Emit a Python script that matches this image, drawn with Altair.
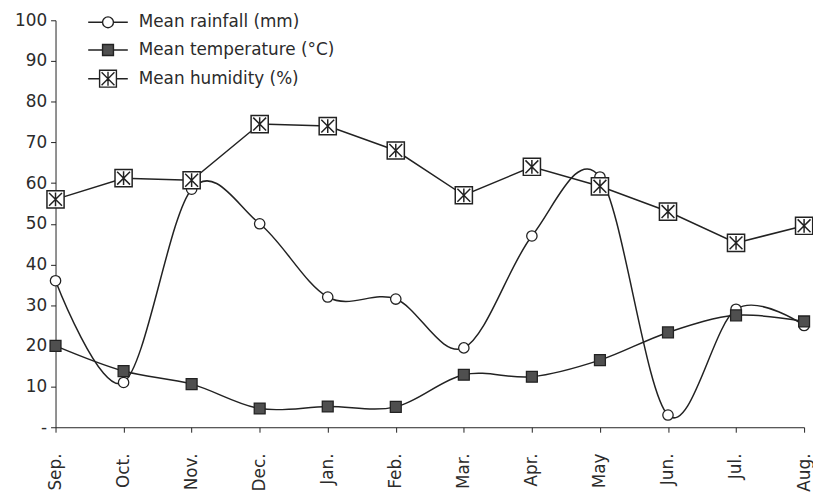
import altair as alt
import pandas as pd

months = ["Sep.", "Oct.", "Nov.", "Dec.", "Jan.", "Feb.", "Mar.", "Apr.", "May", "Jun.", "Jul.", "Aug."]
rainfall = [36, 11, 58.5, 50, 32, 31.5, 19.5, 47, 61.5, 3, 29, 25]
temperature = [20, 13.8, 10.6, 4.6, 5.1, 5.0, 12.9, 12.4, 16.5, 23.3, 27.5, 26]
humidity = [56, 61.2, 60.7, 74.5, 74, 68, 57, 64, 59.2, 53, 45.3, 49.5]
series_names = ["Mean rainfall (mm)", "Mean temperature (°C)", "Mean humidity (%)"]
y_ticks = [0, 10, 20, 30, 40, 50, 60, 70, 80, 90, 100]

rows = []
for name, vals in zip(series_names, [rainfall, temperature, humidity]):
    for m, v in zip(months, vals):
        rows.append({"month": m, "series": name, "value": v})
df = pd.DataFrame(rows)

FONT = "DejaVu Sans"
TXT = "#2b2b2b"
INK = "#222222"
FS = 17

x = alt.X(
    "month:N", sort=months,
    scale=alt.Scale(type="point", padding=0),
    axis=alt.Axis(title=None, labelAngle=-90, labelFontSize=FS, labelFont=FONT,
                  labelColor=TXT, tickSize=5, labelPadding=21, domainColor=INK,
                  tickColor=INK, grid=False, labelOverlap=False),
)
y = alt.Y(
    "value:Q",
    scale=alt.Scale(domain=[0, 100], nice=False),
    axis=alt.Axis(title=None, values=y_ticks,
                  labelExpr="datum.value == 0 ? '-' : datum.label",
                  labelFontSize=FS, labelFont=FONT, labelColor=TXT, tickSize=5,
                  labelPadding=4, domainColor=INK, tickColor=INK, grid=False),
)

base = alt.Chart(df)

def sel(name):
    return base.transform_filter(alt.datum.series == name)

rain_line = sel(series_names[0]).mark_line(interpolate="cardinal", tension=0, color=INK, strokeWidth=1.5).encode(x=x, y=y)
temp_line = sel(series_names[1]).mark_line(interpolate="cardinal", tension=0, color=INK, strokeWidth=1.5).encode(x=x, y=y)
hum_line = sel(series_names[2]).mark_line(interpolate="linear", color=INK, strokeWidth=1.5).encode(x=x, y=y)

rain_pts = sel(series_names[0]).mark_point(shape="circle", filled=True, fill="white", stroke=INK,
                                           strokeWidth=1.3, size=110, opacity=1).encode(x=x, y=y)
temp_pts = sel(series_names[1]).mark_point(shape="square", filled=True, fill="#4f4f4f", stroke=INK,
                                           strokeWidth=1.3, size=121, opacity=1).encode(x=x, y=y)
hum_sq = sel(series_names[2]).mark_point(shape="square", filled=True, fill="white", stroke=INK,
                                         strokeWidth=1.5, size=300, opacity=1).encode(x=x, y=y)
hum_star = sel(series_names[2]).mark_point(shape="M-0.75,-0.75L0.75,0.75M0.75,-0.75L-0.75,0.75M0,-0.8V0.8",
                                           filled=False, stroke=INK, strokeWidth=1.5, size=300,
                                           opacity=1).encode(x=x, y=y)

legend_paths = [
    "M-2,0H-0.55M0.55,0H2M-0.55,0A0.55,0.55 0 1,1 0.55,0A0.55,0.55 0 1,1 -0.55,0Z",
    "M-2,0H-0.55M0.55,0H2M-0.55,-0.55H0.55V0.55H-0.55Z",
    "M-2,0H-0.85M0.85,0H2M-0.85,-0.85H0.85V0.85H-0.85ZM-0.65,-0.65L0.65,0.65M0.65,-0.65L-0.65,0.65M0,-0.7V0.7",
]
leg = alt.Legend(title=None, orient="none", legendX=42, legendY=-9, padding=0,
                 symbolSize=400, symbolStrokeColor=INK, symbolStrokeWidth=1.4,
                 labelFont=FONT, labelFontSize=FS, labelColor=TXT, labelOffset=20,
                 labelLimit=0, rowPadding=8, symbolOpacity=1)
legend_layer = base.transform_filter(alt.datum.value < -1000).mark_point(filled=True, opacity=1).encode(
    shape=alt.Shape("series:N", scale=alt.Scale(domain=series_names, range=legend_paths), legend=leg),
    fill=alt.Fill("series:N", scale=alt.Scale(domain=series_names, range=["white", "#4f4f4f", "white"]), legend=leg),
    stroke=alt.Stroke("series:N", scale=alt.Scale(domain=series_names, range=[INK, INK, INK]), legend=leg),
)

chart = alt.layer(
    rain_line, temp_line, hum_line, rain_pts, temp_pts, hum_sq, hum_star, legend_layer
).properties(
    width=756, height=411,
    autosize=alt.AutoSizeParams(type="none"),
    padding={"left": 48, "top": 10, "right": 9, "bottom": 64},
    background="white",
).configure_view(stroke=None)

chart.save("out.html", embed_options={"renderer": "svg", "actions": False})
